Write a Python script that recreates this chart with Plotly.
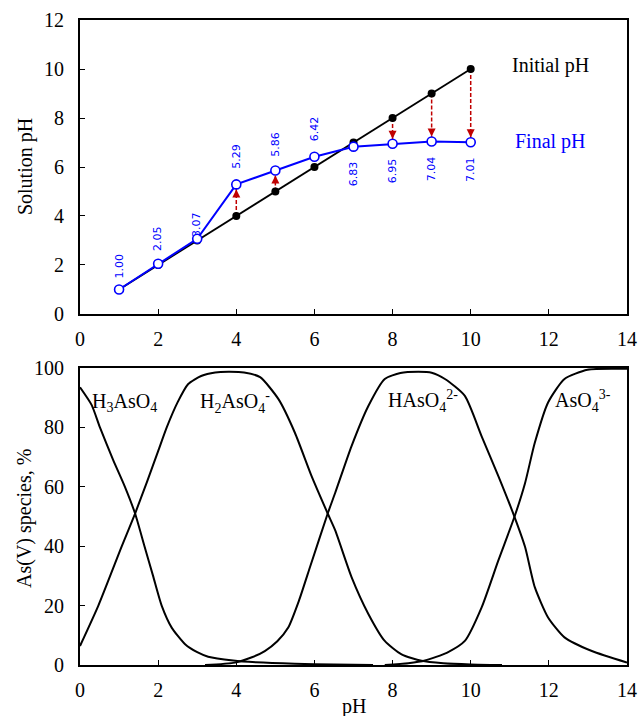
import plotly.graph_objects as go

# ---------------- data: top panel ----------------
initial_ph = [1, 2, 3, 4, 5, 6, 7, 8, 9, 10]
final_ph = [1.00, 2.05, 3.07, 5.29, 5.86, 6.42, 6.83, 6.95, 7.04, 7.01]

# ---------------- data: bottom panel ----------------
ph_h3aso4 = [0, 0.3, 0.51, 0.85, 1.15, 1.41, 1.65, 1.87, 2.09, 2.35, 2.69, 3.0, 3.28, 3.92, 4.5, 5.5, 6.5, 7.5]
h3aso4 = [93.5, 87.5, 80, 69, 60, 51, 40, 30, 20, 12.5, 7, 4.3, 2.8, 1.5, 0.9, 0.4, 0.15, 0]

ph_h2aso4 = [0, 0.47, 1.07, 1.41, 1.71, 2.0, 2.22, 2.5, 2.77, 3.1, 3.46, 3.8, 4.2, 4.61, 5.08, 5.5,
             5.93, 6.34, 6.53, 6.95, 7.38, 7.8, 8.23, 8.74, 9.3, 10.0, 10.8]
h2aso4 = [6.4, 20, 40, 51, 61.5, 72, 80, 88.5, 94.6, 97.3, 98.5, 98.7, 98.5, 96.9, 89.5, 78.2,
          63.5, 51, 45.4, 29.6, 17.2, 8.1, 3.6, 1.4, 0.6, 0.2, 0]

ph_haso4 = [3.2, 3.97, 4.4, 4.73, 5.05, 5.33, 5.6, 5.9, 6.34, 6.53, 6.95, 7.38, 7.8, 8.2, 8.66, 9.0,
            9.34, 9.85, 10.28, 10.71, 11.12, 11.39, 11.64, 11.98, 12.4, 13.1, 14]
haso4 = [0, 0.8, 2.6, 4.7, 8, 12.6, 21.5, 33.5, 51, 57.9, 73.7, 87.2, 96.3, 98.3, 98.7, 98.4,
         96.3, 90.6, 77, 63.5, 49.9, 39.8, 26.2, 16, 9.3, 4.7, 0.8]

ph_aso4 = [7.8, 8.4, 8.83, 9.4, 9.85, 10.28, 10.71, 11.12, 11.39, 11.64, 11.98, 12.4, 12.99, 14]
aso4 = [0, 0.6, 1.5, 4.2, 8.1, 19.4, 35.3, 49.9, 61.2, 74.8, 88.4, 96.3, 99.4, 99.7]

species_names = ["H<sub>3</sub>AsO<sub>4</sub>", "H<sub>2</sub>AsO<sub>4</sub><sup>-</sup>",
                 "HAsO<sub>4</sub><sup>2-</sup>", "AsO<sub>4</sub><sup>3-</sup>"]
species_label_x = [1.13, 3.97, 8.78, 12.88]
species_label_y = [88.5, 88.5, 89, 89]

# ---------------- style ----------------
SERIF = "Liberation Serif"
RED = "#c00000"
BLUE = "#0000ff"
FS = 20
label_shift = [23, 25, 14, 28, 26, 28, -27, -27, -27, -27]

fig = go.Figure()

annotations = []

# dashed arrows (initial -> final) where the change is significant
for xi, yi, yf in zip(initial_ph, initial_ph, final_ph):
    if abs(yf - yi) > 0.5:
        fig.add_trace(go.Scatter(
            x=[xi, xi], y=[yi, yf], mode="lines",
            line=dict(color=RED, width=1.5, dash="4px,2px"),
            xaxis="x", yaxis="y", showlegend=False, hoverinfo="skip"))
        direction = 1 if yf > yi else -1
        annotations.append(dict(
            x=xi, y=yf, xref="x", yref="y", ax=0, ay=12 * direction,
            showarrow=True, arrowhead=2, arrowsize=1, arrowwidth=1.6,
            arrowcolor=RED, standoff=5, text=""))

# initial pH
fig.add_trace(go.Scatter(
    x=initial_ph, y=initial_ph, mode="lines+markers",
    line=dict(color="black", width=1.8),
    marker=dict(color="black", size=8),
    xaxis="x", yaxis="y", showlegend=False))

# final pH
fig.add_trace(go.Scatter(
    x=initial_ph, y=final_ph, mode="lines+markers",
    line=dict(color=BLUE, width=2),
    marker=dict(color="white", size=9, line=dict(color=BLUE, width=1.6)),
    xaxis="x", yaxis="y", showlegend=False))

# species curves
for xs, ys in [(ph_h3aso4, h3aso4), (ph_h2aso4, h2aso4), (ph_haso4, haso4), (ph_aso4, aso4)]:
    fig.add_trace(go.Scatter(
        x=xs, y=ys, mode="lines", line=dict(color="black", width=2, shape="spline", smoothing=0.6),
        xaxis="x2", yaxis="y2", showlegend=False))

for xi, yf, sh in zip(initial_ph, final_ph, label_shift):
    annotations.append(dict(
        x=xi, y=yf, xref="x", yref="y", text=f"{yf:.2f}", showarrow=False, textangle=-90,
        yshift=sh, font=dict(family="DejaVu Sans", size=11, color=BLUE)))

annotations.append(dict(x=12.05, y=10.16, xref="x", yref="y", text="Initial pH", showarrow=False,
                        font=dict(family=SERIF, size=FS, color="black")))
annotations.append(dict(x=12.04, y=7.03, xref="x", yref="y", text="Final pH", showarrow=False,
                        font=dict(family=SERIF, size=FS, color=BLUE)))

for name, lx, ly in zip(species_names, species_label_x, species_label_y):
    annotations.append(dict(x=lx, y=ly, xref="x2", yref="y2", text=name, showarrow=False,
                            font=dict(family=SERIF, size=FS, color="black")))

# axis titles
annotations.append(dict(x=-0.1005, y=0.772, xref="paper", yref="paper", text="Solution pH",
                        xanchor="center", yanchor="middle",
                        textangle=-90, showarrow=False, font=dict(family=SERIF, size=FS, color="black")))
annotations.append(dict(x=-0.1005, y=0.2264, xref="paper", yref="paper", text="As(V) species, %",
                        xanchor="center", yanchor="middle",
                        textangle=-90, showarrow=False, font=dict(family=SERIF, size=FS, color="black")))
annotations.append(dict(x=0.5, y=-0.0651, xref="paper", yref="paper", text="pH",
                        xanchor="center", yanchor="middle",
                        showarrow=False, font=dict(family=SERIF, size=FS, color="black")))

axis_common = dict(showline=True, linecolor="black", linewidth=2, mirror=True,
                   ticks="inside", ticklen=5, tickwidth=1, tickcolor="black",
                   showgrid=False, zeroline=False, automargin=False,
                   tickfont=dict(family=SERIF, size=FS, color="black"))

fig.update_layout(
    width=640, height=716,
    margin=dict(l=80, r=13, t=20, b=51),
    paper_bgcolor="white", plot_bgcolor="white",
    xaxis=dict(domain=[0, 1], range=[0, 14], dtick=2, anchor="y", ticklabelstandoff=6, **axis_common),
    yaxis=dict(domain=[0.5442, 1], range=[0, 12], dtick=2, anchor="x", ticklabelstandoff=10, **axis_common),
    xaxis2=dict(domain=[0, 1], range=[0, 14], dtick=2, anchor="y2", ticklabelstandoff=6, **axis_common),
    yaxis2=dict(domain=[0, 0.4605], range=[0, 100], dtick=20, anchor="x2", ticklabelstandoff=10, **axis_common),
    annotations=annotations,
)

# remove the default page margin so the 640x716 figure fills the window exactly
fig.write_html("out.html",
               config={"displayModeBar": False},
               post_script="document.body.style.margin='0';document.body.style.overflow='hidden';")
